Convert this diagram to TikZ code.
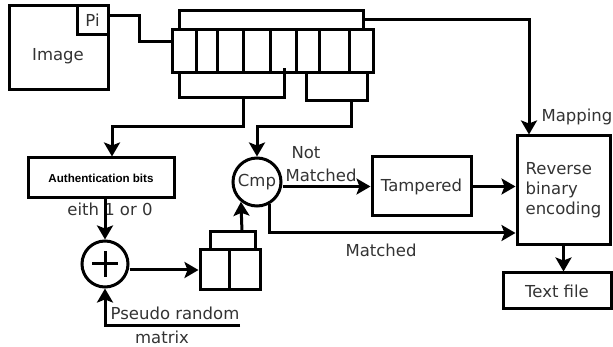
\documentclass[tikz,border=0pt]{standalone}
\usepackage{fontspec}
\setmainfont{DejaVu Sans}
\newfontfamily\authfont{Liberation Sans}
\usetikzlibrary{arrows.meta,positioning}

\begin{document}
\begin{tikzpicture}[x=1pt,y=-1pt,line width=3pt,font=\fontsize{16.5}{20}\selectfont,
  box/.style={draw,rectangle,inner sep=0pt,text=black!80},
  rnd/.style={draw,circle,inner sep=0pt,text=black!80},
  lbl/.style={inner sep=0pt,text=black!80},
  arr/.style={-{Stealth[length=14pt,width=16pt,inset=3pt]}}]
\useasboundingbox (0,0) rectangle (613,347);
% blocks
\node[box,minimum width=99pt,minimum height=84pt] (img) at (58.5,48) {};
\node[lbl] (imgtxt) at (58,56) {Image};
\node[box,minimum width=31pt,minimum height=29pt] (pi) at (92.5,20.5) {Pi};
\node[box,minimum width=201pt,minimum height=43pt] (reg) at (272.5,51.5) {};
\foreach \x in {196,217,243,270,296,319,349} \draw (\x,0 |- reg.north) -- (\x,0 |- reg.south);
\node[box,minimum width=146pt,minimum height=40pt,text=black,font=\authfont\bfseries\fontsize{11.6}{13}\selectfont] (auth) at (101,178) {Authentication bits};
\node[rnd,minimum size=46pt] (xor) at (105,264) {};
\draw ([xshift=-13pt]xor.center) -- ([xshift=13pt]xor.center);
\draw ([yshift=-13pt]xor.center) -- ([yshift=13pt]xor.center);
\node[box,minimum width=60pt,minimum height=40pt] (buf) at (230,270) {};
\draw (229,0 |- buf.north) -- (229,0 |- buf.south);
\node[rnd,minimum size=48pt] (cmp) at (257,182) {Cmp};
\node[box,minimum width=99pt,minimum height=59pt] (tamp) at (421.5,186.5) {Tampered};
\node[box,minimum width=93pt,minimum height=109pt,align=left] (rbe) at (563.5,190.5) {Reverse\\binary\\encoding};
\node[box,minimum width=108pt,minimum height=36pt] (txt) at (557,291) {Text file};
% labels
\node[lbl] (bit) at (110,209) {eith 1 or 0};
\node[lbl] (nt) at (306,153) {Not};
\node[lbl] (nm) at (321,175) {Matched};
\node[lbl] (mt) at (381,250) {Matched};
\node[lbl] (map) at (577,117) {Mapping};
\node[lbl] (pr) at (175,313) {Pseudo random};
\node[lbl] (mx) at (162,337) {matrix};
\coordinate (prend) at (240,325);
% connectors
\draw ([yshift=5pt]pi.east) -| (139,42) -- (reg.west |- 139,42);
\draw (179,0 |- reg.north) |- (363,11) -- (363,0 |- reg.north);
\draw[arr] (363,20) -| (529,0 |- rbe.north);
\draw (179,0 |- reg.south) |- (284,98) -- (284,68);
\draw[arr] (243,98) |- (112,127) -- (112,0 |- auth.north);
\draw (306,0 |- reg.south) |- (367,101) -- (367,0 |- reg.south);
\draw[arr] (351,101) |- (cmp.north |- 0,127) -- (cmp.north);
\draw[arr] (xor.north |- auth.south) -- (xor.north);
\draw[arr] (xor.east |- buf.west) -- (buf.west);
\draw (210,0 |- buf.north) |- (255,232) -- (255,0 |- buf.north);
\draw[arr] (242,232) -- (cmp.231);
\draw[arr] (prend) -- (xor.south |- prend) -- (xor.south);
\draw[arr] (cmp.east |- tamp.west) -- (tamp.west);
\draw[arr] (tamp.east) -- (tamp.east -| rbe.west);
\draw[arr] (cmp.300) -- (cmp.300 |- 0,233) -- (rbe.west |- 0,233);
\draw[arr] (rbe.south) -- (rbe.south |- txt.north);
\end{tikzpicture}
\end{document}
